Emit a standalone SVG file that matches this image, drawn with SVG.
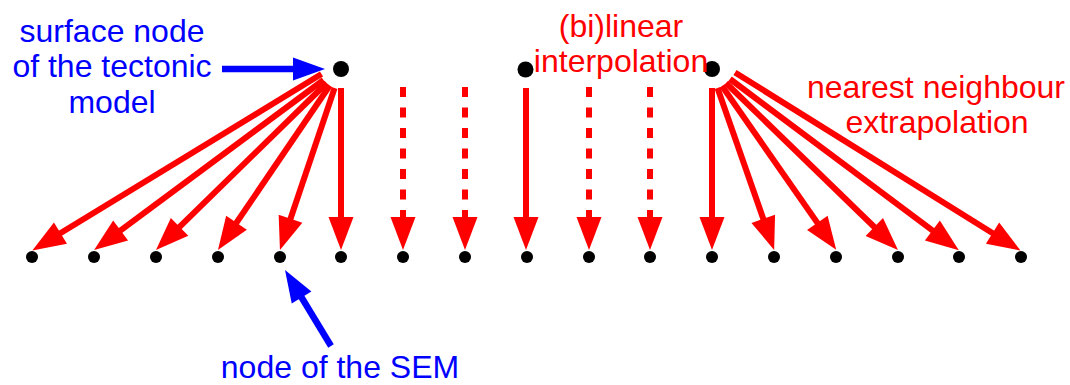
<svg xmlns="http://www.w3.org/2000/svg" width="1070" height="385" viewBox="0 0 1070 385">
<style>
.red{stroke:#ff0000;stroke-width:6;fill:none;marker-end:url(#rh)}
.dash{stroke-dasharray:10 10.5}
.blue{stroke:#0000ff;stroke-width:6.5;fill:none;marker-end:url(#bh)}
.node{fill:#000}
.lb{font-family:"Liberation Sans",Arial,sans-serif;font-size:32px;fill:#0000ff;text-anchor:middle}
.lr{font-family:"Liberation Sans",Arial,sans-serif;font-size:32px;fill:#ff0000;text-anchor:middle}
</style>
<defs>
<marker id="rh" markerUnits="userSpaceOnUse" viewBox="-4 -12 32 24" refX="0" refY="0" markerWidth="32" markerHeight="24" orient="auto" overflow="visible">
<path d="M-5,-12.5 L28,0 L-5,12.5 z" fill="#ff0000"/>
</marker>
<marker id="bh" markerUnits="userSpaceOnUse" viewBox="-4 -11 32 22" refX="0" refY="0" markerWidth="32" markerHeight="22" orient="auto" overflow="visible">
<path d="M-4,-11.5 L28,0 L-4,11.5 z" fill="#0000ff"/>
</marker>
</defs>
<g id="connectors">
<line class="red" x1="321.5" y1="74" x2="56.2" y2="235.8"/>
<line class="red" x1="323.5" y1="80" x2="116.6" y2="233.4"/>
<line class="red" x1="326.7" y1="83.0" x2="176.0" y2="230.4"/>
<line class="red" x1="329.8" y1="85.5" x2="233.7" y2="226.8"/>
<line class="red" x1="334.6" y1="88" x2="288.9" y2="223.5"/>
<line class="red" x1="341" y1="88" x2="341" y2="222"/>
<line class="red dash" x1="403" y1="87" x2="403" y2="222"/>
<line class="red dash" x1="465" y1="87" x2="465" y2="222"/>
<line class="red" x1="526" y1="88" x2="526" y2="222"/>
<line class="red dash" x1="589" y1="87" x2="589" y2="222"/>
<line class="red dash" x1="650" y1="87" x2="650" y2="222"/>
<line class="red" x1="712" y1="88" x2="712" y2="222"/>
<line class="red" x1="717.5" y1="88" x2="764.9" y2="223.5"/>
<line class="red" x1="722" y1="86" x2="820.2" y2="226.9"/>
<line class="red" x1="726" y1="83" x2="877.9" y2="230.5"/>
<line class="red" x1="730" y1="79" x2="936.4" y2="233.4"/>
<line class="red" x1="735" y1="72.5" x2="996.8" y2="235.8"/>
<line class="blue" x1="222" y1="69" x2="297" y2="69"/>
<line class="blue" x1="331" y1="346" x2="299.5" y2="294"/>
</g>
<g id="top-left"><circle class="node" cx="341" cy="69" r="8"/></g>
<g id="top-mid"><circle class="node" cx="525.5" cy="69.5" r="8"/></g>
<g id="top-right"><circle class="node" cx="712" cy="69" r="8"/></g>
<g id="bottom-nodes">
<circle class="node" cx="32" cy="257" r="6"/>
<circle class="node" cx="94" cy="257" r="6"/>
<circle class="node" cx="156" cy="257" r="6"/>
<circle class="node" cx="218" cy="257" r="6"/>
<circle class="node" cx="280" cy="257" r="6"/>
<circle class="node" cx="341" cy="257" r="6"/>
<circle class="node" cx="403" cy="257" r="6"/>
<circle class="node" cx="465" cy="257" r="6"/>
<circle class="node" cx="527" cy="257" r="6"/>
<circle class="node" cx="589" cy="257" r="6"/>
<circle class="node" cx="650" cy="257" r="6"/>
<circle class="node" cx="712" cy="257" r="6"/>
<circle class="node" cx="774" cy="257" r="6"/>
<circle class="node" cx="836" cy="257" r="6"/>
<circle class="node" cx="898" cy="257" r="6"/>
<circle class="node" cx="959" cy="257" r="6"/>
<circle class="node" cx="1021" cy="257" r="6"/>
</g>
<g id="labels">
<text class="lb" x="112" y="42">surface node</text>
<text class="lb" x="112" y="77">of the tectonic</text>
<text class="lb" x="112" y="113">model</text>
<text class="lb" x="340" y="378">node of the SEM</text>
<text class="lr" x="621" y="37">(bi)linear</text>
<text class="lr" x="621" y="72">interpolation</text>
<text class="lr" x="936" y="98">nearest neighbour</text>
<text class="lr" x="937" y="133">extrapolation</text>
</g>
</svg>
